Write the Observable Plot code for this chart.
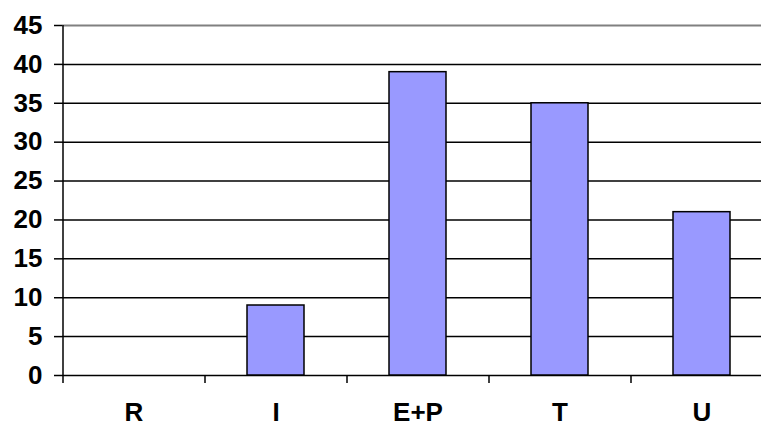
<!DOCTYPE html>
<html>
<head>
<meta charset="utf-8">
<script src="https://cdn.jsdelivr.net/npm/d3@7"></script>
<script src="https://cdn.jsdelivr.net/npm/@observablehq/plot@0.6"></script>
<style>
  html, body { margin: 0; padding: 0; background: #fff; overflow: hidden; }
  #chart svg { overflow: hidden; display: block; }
</style>
</head>
<body>
<div id="chart"></div>
<script>
const categories = ["R", "I", "E+P", "T", "U"];
const values = [0, 9, 39, 35, 21];
const yTicks = [0, 5, 10, 15, 20, 25, 30, 35, 40, 45];

const data = categories.map((c, i) => ({category: c, value: values[i]}));

const width = 761, height = 427;
const marginLeft = 62, marginRight = -11, marginTop = 25, marginBottom = 52;
const step = (width - marginLeft - marginRight) / categories.length;
const font = "'Liberation Sans', Arial, sans-serif";

const chart = Plot.plot({
  width, height, marginLeft, marginRight, marginTop, marginBottom,
  style: {fontFamily: font, background: "#fff", overflow: "hidden"},
  x: {domain: categories, paddingInner: 0.6, paddingOuter: 0.3, label: null},
  y: {domain: [0, 45], label: null},
  marks: [
    Plot.ruleY(yTicks.filter(t => t !== 45), {stroke: "#000", strokeWidth: 1.5}),
    Plot.ruleY([45], {stroke: "#808080", strokeWidth: 2}),
    Plot.barY(data, {x: "category", y: "value", fill: "#9999ff", stroke: "#000", strokeWidth: 1.5}),
    Plot.ruleX([categories[0]], {x: d => d, y1: 0, y2: 45, dx: -step / 2, stroke: "#000", strokeWidth: 1.5}),
    Plot.axisX({tickSize: 8, tickFormat: () => "", dx: -step / 2, stroke: "#000", strokeWidth: 1.5}),
    Plot.axisX({tickSize: 0, tickPadding: 27, fontSize: 26, fontWeight: "bold", fill: "#000"}),
    Plot.axisY({ticks: yTicks, tickSize: 8, tickPadding: 12, fontSize: 26, fontWeight: "bold", fill: "#000", stroke: "#000", strokeWidth: 1.5})
  ]
});
document.getElementById("chart").appendChild(chart);
</script>
</body>
</html>
